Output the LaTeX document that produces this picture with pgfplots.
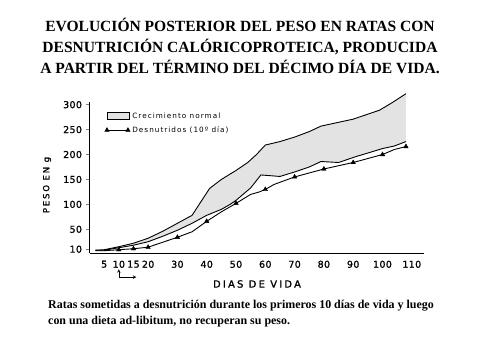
\documentclass[border=0pt]{standalone}
\usepackage{pgfplots}
\pgfplotsset{compat=1.18}
\usepackage{fontspec}
\setmainfont{Liberation Serif}
\newfontfamily\chartfont[LetterSpace=4,FakeBold=1.2]{DejaVu Sans}
\newfontfamily\legfont[LetterSpace=14]{DejaVu Sans}
\newfontfamily\labfont[LetterSpace=22,FakeBold=1.2]{DejaVu Sans}
\begin{document}
\begin{tikzpicture}[x=1bp,y=1bp]
\useasboundingbox[fill=white] (0,0) rectangle (481,361);
\node[align=center, font=\bfseries\fontsize{15.6}{21}\selectfont] at (240,315)
 {EVOLUCIÓN POSTERIOR DEL PESO EN RATAS CON\\DESNUTRICIÓN CALÓRICOPROTEICA, PRODUCIDA\\A PARTIR DEL TÉRMINO DEL DÉCIMO DÍA DE VIDA.};
\node[anchor=base west, font=\bfseries\fontsize{12}{14}\selectfont, inner sep=0] at (48,53)
 {Ratas sometidas a desnutrición durante los primeros 10 días de vida y luego};
\node[anchor=base west, font=\bfseries\fontsize{12}{14}\selectfont, inner sep=0] at (48,37)
 {con una dieta ad-libitum, no recuperan su peso.};
\begin{axis}[
  at={(89.5bp,107.8bp)}, anchor=south west,
  scale only axis, width=334bp, height=151.5bp,
  xmin=0, xmax=114, ymin=2, ymax=306,
  axis x line*=bottom, axis y line*=left,
  axis line style={line width=1pt},
  xtick={5,10,15,20,30,40,50,60,70,80,90,100,110},
  ytick={10,50,100,150,200,250,300},
  xtick style={draw=none},
  ytick style={line width=0.9pt},
  tick align=outside, major tick length=4bp,
  /pgf/number format/assume math mode=true,
  ticklabel style={font=\chartfont\fontsize{9.5}{10}\selectfont},
  clip=false,
  legend style={draw=none, fill=none, at={(0.046,0.94)}, anchor=north west,
    font=\legfont\fontsize{7.3}{8}\selectfont, row sep=4bp, inner sep=0pt,
    nodes={inner xsep=2.5bp, inner ysep=1.5bp}},
  legend cell align=left,
]
% shaded band: upper line forward, lower line backward
\addplot[fill=black!11, draw=none, forget plot] coordinates {
 (2,8) (5,9) (10,15) (15,22) (20,32) (25,46) (30,62) (35,78) (38,105) (41,132) (45,150)
 (50,168) (54,184) (57,200) (60,219) (65,226) (70,235) (75,246) (79,257) (90,271) (99,289) (103,303) (108,322)
 (108,226) (104,217) (100,212) (95,203) (91,196) (85,184) (79,186) (75,175) (70,165) (65,156)
 (58.5,159) (55,133) (50,108) (48,100) (45,90) (40,78) (35,62) (30,48) (25,36) (20,25) (15,18) (10,13) (5,8) (2,8)
};
% upper line
\addplot[black, line width=0.9pt, forget plot] coordinates {
 (2,8) (5,9) (10,15) (15,22) (20,32) (25,46) (30,62) (35,78) (38,105) (41,132) (45,150)
 (50,168) (54,184) (57,200) (60,219) (65,226) (70,235) (75,246) (79,257) (90,271) (99,289) (103,303) (108,322)
};
% lower band line
\addplot[black, line width=0.9pt, forget plot] coordinates {
 (2,8) (5,8) (10,13) (15,18) (20,25) (25,36) (30,48) (35,62) (40,78) (45,90) (48,100) (50,108)
 (55,133) (58.5,159) (65,156) (70,165) (75,175) (79,186) (85,184) (91,196) (95,203) (100,212) (104,217) (108,226)
};
% desnutridos line
\addplot[black, line width=0.9pt, forget plot] coordinates {
 (2,7) (5,7) (10,9) (15,11) (20,14) (25,24) (30,34) (35,45) (40,66) (45,85) (50,102) (55,120)
 (58,125) (60,130) (63,140) (70,155) (80,171) (90,184) (100,200) (104,210) (108,216)
};
\addplot[only marks, mark=triangle*, mark size=2.6pt, black, forget plot] coordinates {
 (10,9) (15,11) (20,14) (30,34) (40,66) (50,102) (60,130) (70,155) (80,171) (90,184) (100,200) (108,216)
};
\addlegendimage{legend image code/.code={\draw[fill=black!11, line width=0.6pt] (0cm,-0.12cm) rectangle (0.78cm,0.12cm);}}
\addlegendentry{Crecimiento normal}
\addlegendimage{black, line width=0.8pt, mark=triangle*, mark size=2.2pt,
  legend image code/.code={\draw plot coordinates {(0cm,0cm) (0.74cm,0cm)};}}
\addlegendentry{Desnutridos (10º día)}
\draw[<->, >=stealth, line width=0.6pt] (axis cs:10,-30) -- (axis cs:10,-46) -- (axis cs:16,-46);
\end{axis}
\node[font=\labfont\fontsize{10}{11}\selectfont] at (257,77) {DIAS DE VIDA};
\node[font=\labfont\fontsize{8.5}{10}\selectfont, rotate=90] at (47,176) {PESO EN g};
\end{tikzpicture}
\end{document}
